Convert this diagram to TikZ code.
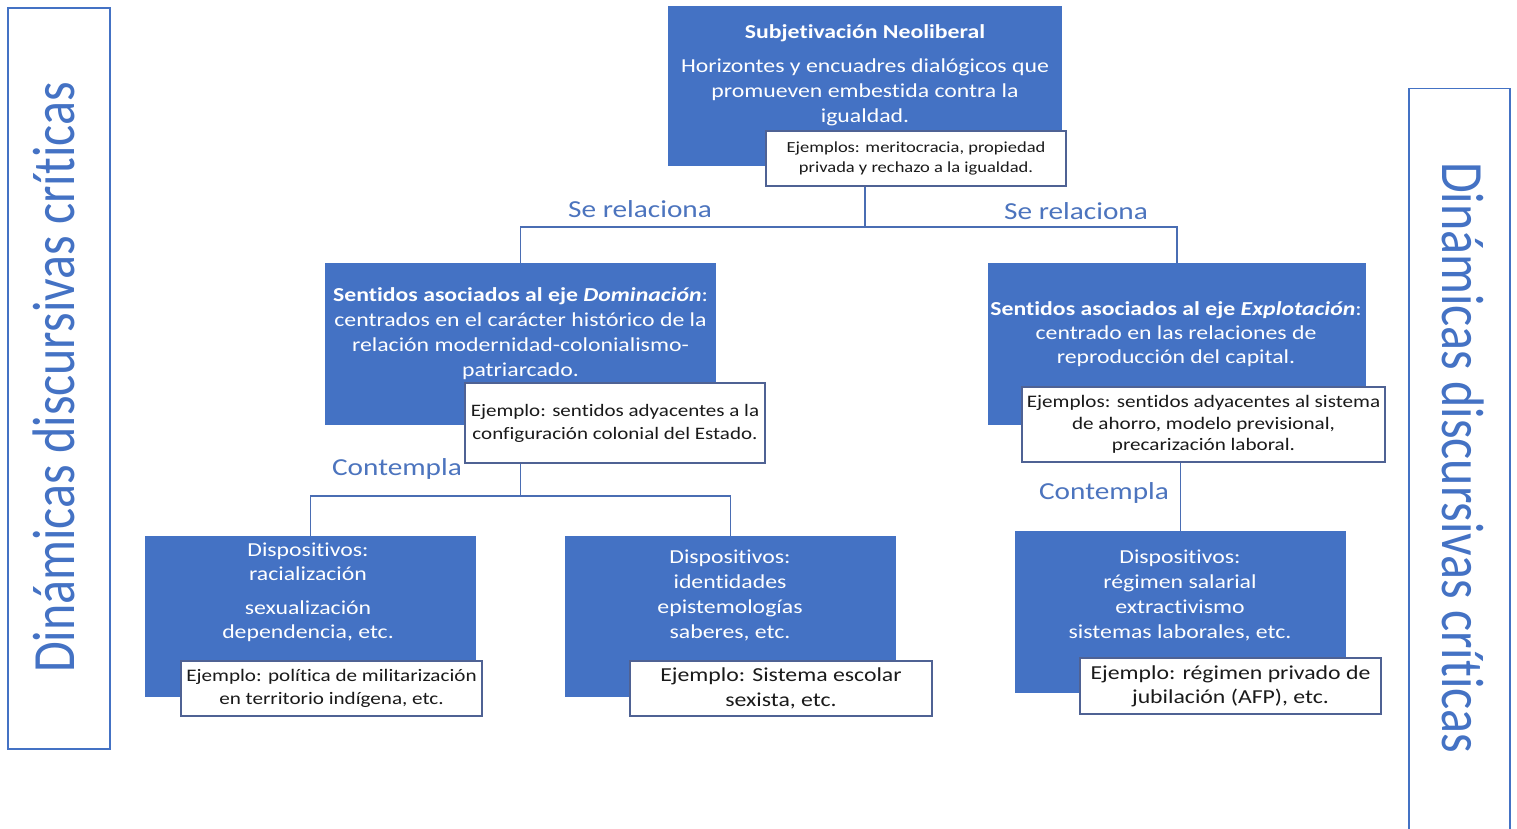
\documentclass[tikz,border=0pt]{standalone}
\usepackage{fontspec}
\setmainfont{Carlito}[Ligatures=NoCommon]
\definecolor{boxblue}{HTML}{4472C4}
\definecolor{linkblue}{HTML}{4A6DB3}
\definecolor{labelblue}{HTML}{4C74BE}
\definecolor{exborder}{HTML}{4F6294}
\definecolor{extext}{HTML}{1A1A1A}
\newcommand{\fs}[2]{\fontsize{#1pt}{#2pt}\selectfont}
\begin{document}
\begin{tikzpicture}[x=1pt,y=-1pt,
  bluebox/.style={rectangle, fill=boxblue, draw=none, inner sep=0pt},
  bluetext/.style={text=white, align=center, inner sep=0pt, xscale=1.2},
  exbox/.style 2 args={rectangle, fill=white, draw=exborder, line width=1.6pt, inner sep=0pt,
    align=center, text=extext, xscale=1.2, minimum width=#1pt/1.2, minimum height=#2pt},
  sidebox/.style={rectangle, draw=boxblue, line width=1.6pt, fill=white, inner sep=0pt},
  sidetext/.style={text=boxblue, inner sep=0pt, font=\fs{50}{60}},
  link/.style={draw=linkblue, line width=1.8pt},
  linklabel/.style={text=labelblue, inner sep=0pt, font=\fs{24.4}{28}, xscale=1.2}]
\useasboundingbox (0,0) rectangle (1517,829);
\fill[white] (0,0) rectangle (1517,829);

% side frames
\node[sidebox, minimum width=102pt, minimum height=741pt] (sideL) at (59,378.5) {};
\node[sidetext, xscale=1.2, rotate=90] (sideLt) at (54,377.5) {Dinámicas discursivas críticas};
\begin{scope}
\clip (1395,0) rectangle (1517,829);
\node[sidebox, minimum width=101pt, minimum height=745pt] (sideR) at (1459.5,461) {};
\end{scope}
\node[sidetext, xscale=1.2, rotate=-90] (sideRt) at (1463,457.5) {Dinámicas discursivas críticas};

% top level
\node[bluebox, minimum width=394pt, minimum height=160pt] (top) at (865,86) {};
\node[bluetext, font=\fs{19.8}{25}] (topt) at (865,75) {{\bfseries Subjetivación Neoliberal}\\[9pt]
  Horizontes y encuadres dialógicos que\\ promueven embestida contra la\\ igualdad.};
\node[exbox={300}{55}, font=\fs{15.4}{20}] (ex0) at (916,158.5)
  {Ejemplos: meritocracia, propiedad\\ privada y rechazo a la igualdad.};

% second level
\node[bluebox, minimum width=391pt, minimum height=162pt] (dom) at (520.5,344) {};
\node[bluetext, font=\fs{19.8}{25}] (domt) at (520.5,334) {\textbf{Sentidos asociados al eje \textit{Dominación}}:\\
  centrados en el carácter histórico de la\\ relación modernidad-colonialismo-\\ patriarcado.};
\node[exbox={300}{80}, font=\fs{17.5}{23}] (ex1) at (615,423)
  {Ejemplo: sentidos adyacentes a la\\ configuración colonial del Estado.};

\node[bluebox, minimum width=378pt, minimum height=162pt] (exp) at (1177,344) {};
\node[bluetext, font=\fs{19.8}{24}] (expt) at (1176,334) {\textbf{Sentidos asociados al eje \textit{Explotación}}:\\
  centrado en las relaciones de\\ reproducción del capital.};
\node[exbox={363}{75}, font=\fs{17.6}{21.5}] (ex2) at (1203.5,424.5)
  {Ejemplos: sentidos adyacentes al sistema\\ de ahorro, modelo previsional,\\ precarización laboral.};

% third level
\node[bluebox, minimum width=331pt, minimum height=161pt] (d1) at (310.5,616.5) {};
\node[bluetext, font=\fs{19.8}{24.5}] (d1t) at (308,592.5) {Dispositivos:\\ racialización\\[9pt] sexualización\\ dependencia, etc.};
\node[exbox={301}{55}, font=\fs{17.6}{23}] (ex3) at (331.5,688.5)
  {Ejemplo: política de militarización\\ en territorio indígena, etc.};

\node[bluebox, minimum width=331pt, minimum height=161pt] (d2) at (730.5,616.5) {};
\node[bluetext, font=\fs{19.8}{25}] (d2t) at (730,595) {Dispositivos:\\ identidades\\ epistemologías\\ saberes, etc.};
\node[exbox={302}{55}, font=\fs{19.8}{25}] (ex4) at (781,688.5)
  {Ejemplo: Sistema escolar\\ sexista, etc.};

\node[bluebox, minimum width=331pt, minimum height=162pt] (d3) at (1180.5,612) {};
\node[bluetext, font=\fs{19.8}{25}] (d3t) at (1180,595) {Dispositivos:\\ régimen salarial\\ extractivismo\\ sistemas laborales, etc.};
\node[exbox={301}{56}, font=\fs{19.8}{24}] (ex5) at (1230.5,686)
  {Ejemplo: régimen privado de\\ jubilación (AFP), etc.};

% connectors
\coordinate (j0) at (865,227);
\draw[link] (j0 |- ex0.south) -- (j0);
\draw[link] (dom.north) |- (j0) -| (exp.north);
\coordinate (j1) at (520.5,496);
\draw[link] (j1 |- ex1.south) -- (j1);
\draw[link] (d1.north) |- (j1) -| (d2.north);
\draw[link] (d3.north |- ex2.south) -- (d3.north);

% connector labels
\node[linklabel] (rel1) at (640,209) {Se relaciona};
\node[linklabel] (rel2) at (1076,211) {Se relaciona};
\node[linklabel] (con1) at (397,469) {Contempla};
\node[linklabel] (con2) at (1104,493) {Contempla};
\end{tikzpicture}
\end{document}
